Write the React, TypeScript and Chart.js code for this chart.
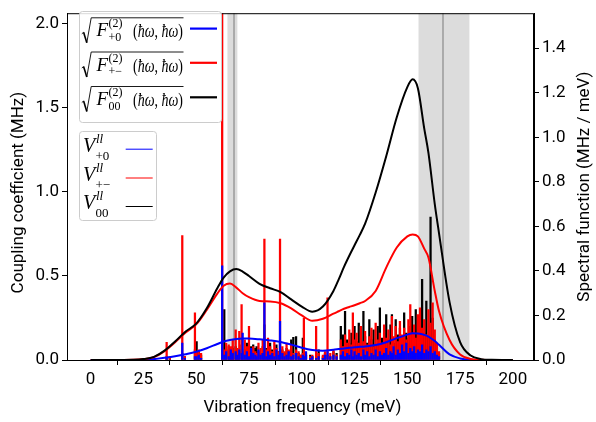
import { useEffect, useRef } from 'react';
import { Chart, registerables } from 'chart.js';

Chart.register(...registerables);

// ---------- data ----------
const xTicks = [0, 25, 50, 75, 100, 125, 150, 175, 200];
const leftTicks = [0, 0.5, 1.0, 1.5, 2.0];
const rightTicks = [0, 0.2, 0.4, 0.6, 0.8, 1.0, 1.2, 1.4];

// Spectral functions (right axis, MHz / meV)
const curveFreq = [0, 10, 20, 25, 30, 35, 40, 45, 50, 55, 60, 63, 66, 69, 72, 75, 80, 85, 90, 95, 100, 105, 110, 115, 117.5, 120, 122.5, 125, 127.5, 130, 135, 140, 145, 150, 152.5, 155, 158, 160, 163, 165, 170, 175, 180, 185, 190, 200];
const spectralPlus0 = [0, 0, 0, 0.001, 0.004, 0.01, 0.017, 0.026, 0.037, 0.053, 0.072, 0.083, 0.09, 0.094, 0.096, 0.096, 0.093, 0.088, 0.081, 0.069, 0.055, 0.045, 0.042, 0.046, 0.049, 0.052, 0.0545, 0.057, 0.059, 0.061, 0.067, 0.08, 0.098, 0.114, 0.12, 0.119, 0.113, 0.105, 0.085, 0.068, 0.025, 0.007, 0.001, 0, 0, 0];
const spectralPlusMinus = [0, 0, 0.001, 0.004, 0.013, 0.04, 0.08, 0.124, 0.16, 0.225, 0.298, 0.333, 0.343, 0.325, 0.3, 0.282, 0.265, 0.263, 0.255, 0.232, 0.2, 0.176, 0.185, 0.208, 0.219, 0.23, 0.238, 0.246, 0.255, 0.265, 0.31, 0.415, 0.505, 0.555, 0.564, 0.555, 0.5, 0.46, 0.31, 0.22, 0.09, 0.025, 0.005, 0.001, 0, 0];
const spectral00 = [0, 0, 0.001, 0.004, 0.014, 0.042, 0.083, 0.128, 0.163, 0.232, 0.322, 0.37, 0.398, 0.408, 0.397, 0.377, 0.342, 0.322, 0.305, 0.272, 0.24, 0.217, 0.24, 0.31, 0.362, 0.418, 0.468, 0.515, 0.562, 0.612, 0.752, 0.915, 1.09, 1.225, 1.26, 1.22, 1.04, 0.93, 0.7, 0.57, 0.26, 0.08, 0.02, 0.004, 0.001, 0];

// Mode couplings (left axis, MHz)
const modeFreq = [
  36.0, 37.5, 43.4, 44.6, 49.4, 50.2, 51.2, 52.3, 62.3, 63.3,
  64.2, 65.4, 66.4, 67.3, 68.7, 69.5, 70.4, 71.5, 72.0, 73.0,
  74.0, 75.0, 76.0, 77.0, 78.0, 78.6, 79.5, 80.5, 81.5, 82.3,
  83.2, 84.0, 85.0, 86.0, 87.0, 88.0, 89.0, 89.7, 90.8, 91.8,
  92.8, 93.8, 95.0, 96.0, 97.3, 98.5, 99.5, 100.5, 101.0, 102.0,
  104.0, 105.0, 106.8, 108.0, 110.0, 111.0, 112.2, 113.5, 115.0, 116.5,
  118.5, 119.5, 120.5, 121.5, 122.5, 123.5, 124.2, 125.0, 126.0, 127.0,
  128.0, 129.2, 130.0, 131.0, 132.0, 133.0, 134.0, 135.0, 136.0, 137.0,
  138.0, 139.0, 140.0, 141.0, 142.0, 142.7, 143.5, 144.5, 145.5, 146.5,
  147.5, 148.5, 149.5, 150.5, 151.4, 152.3, 153.2, 154.0, 155.0, 156.0,
  157.0, 158.0, 159.0, 160.0, 161.0, 162.0, 163.0, 164.0, 165.0,
];
const couplingPlus0 = [
  0.01, 0.00, 0.10, 0.01, 0.02, 0.02, 0.03, 0.01, 0.56, 0.03,
  0.05, 0.02, 0.06, 0.04, 0.05, 0.03, 0.06, 0.04, 0.16, 0.03,
  0.05, 0.02, 0.07, 0.04, 0.03, 0.02, 0.06, 0.03, 0.04, 0.34,
  0.02, 0.05, 0.03, 0.04, 0.02, 0.06, 0.03, 0.23, 0.04, 0.02,
  0.03, 0.05, 0.02, 0.03, 0.04, 0.02, 0.01, 0.03, 0.02, 0.05,
  0.01, 0.02, 0.01, 0.02, 0.01, 0.03, 0.05, 0.02, 0.03, 0.02,
  0.03, 0.05, 0.02, 0.04, 0.03, 0.06, 0.02, 0.05, 0.03, 0.04,
  0.02, 0.06, 0.03, 0.05, 0.02, 0.04, 0.03, 0.06, 0.02, 0.05,
  0.03, 0.04, 0.07, 0.03, 0.05, 0.04, 0.08, 0.03, 0.06, 0.04,
  0.09, 0.05, 0.10, 0.04, 0.07, 0.05, 0.08, 0.04, 0.06, 0.05,
  0.09, 0.04, 0.06, 0.05, 0.08, 0.04, 0.05, 0.03, 0.02,
];
const couplingPlusMinus = [
  0.105, 0.02, 0.74, 0.02, 0.28, 0.05, 0.06, 0.04, 2.20, 0.06,
  0.10, 0.09, 0.08, 0.12, 0.18, 0.07, 0.17, 0.33, 0.05, 0.12,
  0.08, 0.20, 0.06, 0.08, 0.05, 0.04, 0.10, 0.07, 0.12, 0.72,
  0.06, 0.13, 0.08, 0.05, 0.11, 0.07, 0.05, 0.72, 0.08, 0.05,
  0.10, 0.06, 0.09, 0.04, 0.06, 0.05, 0.03, 0.04, 0.25, 0.04,
  0.02, 0.03, 0.20, 0.04, 0.03, 0.05, 0.37, 0.04, 0.06, 0.03,
  0.12, 0.08, 0.15, 0.10, 0.18, 0.09, 0.28, 0.12, 0.16, 0.10,
  0.20, 0.11, 0.17, 0.09, 0.14, 0.19, 0.08, 0.22, 0.12, 0.16,
  0.10, 0.21, 0.13, 0.18, 0.09, 0.26, 0.14, 0.20, 0.11, 0.23,
  0.15, 0.19, 0.12, 0.24, 0.33, 0.16, 0.21, 0.13, 0.27, 0.31,
  0.19, 0.24, 0.15, 0.30, 0.22, 0.34, 0.18, 0.10, 0.05,
];
const coupling00 = [
  0.02, 0.01, 0.04, 0.02, 0.06, 0.11, 0.05, 0.03, 0.04, 0.30,
  0.06, 0.08, 0.05, 0.07, 0.08, 0.06, 0.05, 0.09, 0.04, 0.06,
  0.10, 0.05, 0.08, 0.09, 0.07, 0.08, 0.05, 0.04, 0.08, 0.21,
  0.07, 0.05, 0.10, 0.06, 0.04, 0.09, 0.05, 0.10, 0.06, 0.04,
  0.07, 0.05, 0.12, 0.135, 0.14, 0.04, 0.03, 0.13, 0.02, 0.03,
  0.03, 0.02, 0.02, 0.06, 0.02, 0.04, 0.03, 0.02, 0.05, 0.04,
  0.20, 0.15, 0.29, 0.12, 0.10, 0.16, 0.08, 0.20, 0.11, 0.22,
  0.09, 0.29, 0.14, 0.10, 0.24, 0.12, 0.18, 0.09, 0.20, 0.31,
  0.13, 0.16, 0.27, 0.12, 0.21, 0.27, 0.10, 0.24, 0.15, 0.19,
  0.11, 0.28, 0.16, 0.13, 0.20, 0.26, 0.14, 0.30, 0.18, 0.22,
  0.48, 0.16, 0.35, 0.14, 0.85, 0.25, 0.12, 0.08, 0.04,
];

// Shaded windows (meV)
const bandStart = [64.8, 155.3];
const bandEnd = [69.5, 179.4];
const bandCenter = [67.9, 166.9];

const subLabels = ['+0', '+\u2212', '00'];
const seriesColors = ['#0000ff', '#ff0000', '#000000'];

// ---------- drawing helpers ----------
const MATH = 'Liberation Serif';
const SANS = 'Roboto';

function drawSeq(ctx: CanvasRenderingContext2D, pieces: [string, string][], x: number, y: number, targetW?: number) {
  const widths: number[] = [];
  let total = 0;
  for (const [s, f] of pieces) {
    ctx.font = f;
    const w = ctx.measureText(s).width;
    widths.push(w);
    total += w;
  }
  ctx.save();
  ctx.translate(x, y);
  if (targetW) ctx.scale(targetW / total, 1);
  let cx = 0;
  pieces.forEach(([s, f], i) => {
    ctx.font = f;
    ctx.fillText(s, cx, 0);
    cx += widths[i];
  });
  ctx.restore();
}

function roundRect(ctx: CanvasRenderingContext2D, x: number, y: number, w: number, h: number, r: number) {
  ctx.beginPath();
  ctx.moveTo(x + r, y);
  ctx.lineTo(x + w - r, y);
  ctx.quadraticCurveTo(x + w, y, x + w, y + r);
  ctx.lineTo(x + w, y + h - r);
  ctx.quadraticCurveTo(x + w, y + h, x + w - r, y + h);
  ctx.lineTo(x + r, y + h);
  ctx.quadraticCurveTo(x, y + h, x, y + h - r);
  ctx.lineTo(x, y + r);
  ctx.quadraticCurveTo(x, y, x + r, y);
  ctx.closePath();
}

const bandPlugin = {
  id: 'bands',
  beforeDatasetsDraw(chart: any) {
    const { ctx, chartArea, scales } = chart;
    const xs = scales.x;
    ctx.save();
    for (let i = 0; i < bandStart.length; i++) {
      const a = xs.getPixelForValue(bandStart[i]);
      const b = xs.getPixelForValue(bandEnd[i]);
      ctx.fillStyle = 'rgba(128,128,128,0.28)';
      ctx.fillRect(a, chartArea.top, b - a, chartArea.bottom - chartArea.top);
      const c = xs.getPixelForValue(bandCenter[i]);
      ctx.strokeStyle = '#9a9a9a';
      ctx.lineWidth = 1.5;
      ctx.beginPath();
      ctx.moveTo(c, chartArea.top);
      ctx.lineTo(c, chartArea.bottom);
      ctx.stroke();
    }
    ctx.restore();
  },
};

const overlayPlugin = {
  id: 'overlay',
  afterDraw(chart: any) {
    const { ctx, chartArea } = chart;
    ctx.save();
    // frame
    ctx.strokeStyle = '#000';
    ctx.lineWidth = 1;
    ctx.strokeRect(chartArea.left + 0.5, chartArea.top + 0.5, chartArea.right - chartArea.left - 1, chartArea.bottom - chartArea.top);

    // axis titles
    ctx.fillStyle = '#000';
    ctx.textAlign = 'center';
    ctx.textBaseline = 'middle';
    ctx.font = `17px ${SANS}`;
    ctx.fillText('Vibration frequency (meV)', (chartArea.left + chartArea.right) / 2 + 2, 408);
    const midY = (chartArea.top + chartArea.bottom) / 2;
    ctx.save();
    ctx.translate(19, midY + 6);
    ctx.rotate(-Math.PI / 2);
    ctx.fillText('Coupling coefficient (MHz)', 0, 0);
    ctx.restore();
    ctx.save();
    ctx.translate(585, midY);
    ctx.rotate(-Math.PI / 2);
    ctx.fillText('Spectral function (MHz / meV)', 0, 0);
    ctx.restore();

    ctx.textAlign = 'left';
    ctx.textBaseline = 'alphabetic';

    // legend 1
    roundRect(ctx, 79.5, 11.5, 142, 111, 3);
    ctx.fillStyle = 'rgba(255,255,255,0.85)';
    ctx.fill();
    ctx.strokeStyle = '#cccccc';
    ctx.lineWidth = 1;
    ctx.stroke();
    const over = [17.3, 51.5, 86];
    for (let i = 0; i < 3; i++) {
      const o = over[i];
      ctx.strokeStyle = '#000';
      ctx.lineWidth = 0.9;
      ctx.beginPath();
      ctx.moveTo(81.8, o + 16.5);
      ctx.lineTo(83.6, o + 15);
      ctx.stroke();
      ctx.lineWidth = 1.6;
      ctx.beginPath();
      ctx.moveTo(83.6, o + 15);
      ctx.lineTo(86.8, o + 25.5);
      ctx.stroke();
      ctx.lineWidth = 0.9;
      ctx.beginPath();
      ctx.moveTo(86.8, o + 25.5);
      ctx.lineTo(91.2, o + 0.5);
      ctx.lineTo(183.5, o + 0.5);
      ctx.stroke();
      ctx.fillStyle = '#000';
      drawSeq(ctx, [['F', `italic 19px ${MATH}`]], 96.5, o + 19);
      drawSeq(ctx, [['(2)', `12px ${MATH}`]], 108.5, o + 10);
      drawSeq(ctx, [[subLabels[i], `12px ${MATH}`]], 108.5, o + 23.5);
      drawSeq(ctx, [
        ['(', `18px ${MATH}`],
        ['\u0127\u03c9', `italic 18px ${MATH}`],
        [', ', `18px ${MATH}`],
        ['\u0127\u03c9', `italic 18px ${MATH}`],
        [')', `18px ${MATH}`],
      ], 133, o + 20, 50);
      ctx.strokeStyle = seriesColors[i];
      ctx.lineWidth = 2.2;
      ctx.beginPath();
      ctx.moveTo(190, o + 11.3);
      ctx.lineTo(217, o + 11.3);
      ctx.stroke();
    }

    // legend 2
    roundRect(ctx, 79.5, 131.5, 77, 89, 3);
    ctx.fillStyle = 'rgba(255,255,255,0.85)';
    ctx.fill();
    ctx.strokeStyle = '#cccccc';
    ctx.lineWidth = 1;
    ctx.stroke();
    const base = [151.7, 180.5, 209];
    for (let i = 0; i < 3; i++) {
      const b = base[i];
      ctx.fillStyle = '#000';
      drawSeq(ctx, [['V', `italic 20px ${MATH}`]], 83, b);
      drawSeq(ctx, [['ll', `italic 13px ${MATH}`]], 96, b - 9);
      drawSeq(ctx, [[subLabels[i], `13px ${MATH}`]], 95.5, b + 8);
      ctx.strokeStyle = seriesColors[i];
      ctx.lineWidth = 1;
      ctx.beginPath();
      ctx.moveTo(125.7, b - 2.5);
      ctx.lineTo(152.7, b - 2.5);
      ctx.stroke();
    }
    ctx.restore();
  },
};

function pts(xs: number[], ys: number[]) {
  return xs.map((x, i) => ({ x, y: ys[i] }));
}

export default function App() {
  const ref = useRef<HTMLCanvasElement>(null);

  useEffect(() => {
    if (!ref.current) return;
    const tickGrid = { display: true, drawOnChartArea: false, drawTicks: true, tickLength: 5, color: '#000', lineWidth: 1 };
    const tickFont = { family: SANS, size: 17 };
    const lineDs = (data: number[], color: string) => ({
      type: 'line' as const,
      data: pts(curveFreq, data),
      borderColor: color,
      borderWidth: 2,
      pointRadius: 0,
      fill: false,
      cubicInterpolationMode: 'monotone' as const,
      yAxisID: 'y2',
    });
    const barDs = (data: number[], color: string) => ({
      type: 'bar' as const,
      data: pts(modeFreq, data),
      backgroundColor: color,
      borderWidth: 0,
      barThickness: 1.6,
      grouped: false,
      yAxisID: 'y',
    });
    const chart = new Chart(ref.current, {
      type: 'bar',
      data: {
        datasets: [
          lineDs(spectral00, '#000000'),
          lineDs(spectralPlusMinus, '#ff0000'),
          lineDs(spectralPlus0, '#0000ff'),
          barDs(couplingPlus0, '#0000ff'),
          barDs(couplingPlusMinus, '#ff0000'),
          barDs(coupling00, '#000000'),
        ] as any,
      },
      options: {
        responsive: false,
        animation: false,
        layout: { padding: { top: 4, left: 0, right: 0, bottom: 0 } },
        plugins: { legend: { display: false }, tooltip: { enabled: false } },
        scales: {
          x: {
            type: 'linear',
            min: -11.2,
            max: 210,
            offset: false,
            grid: tickGrid,
            border: { display: true, color: '#000', width: 1 },
            ticks: { font: tickFont, color: '#000', padding: 5, autoSkip: false, maxRotation: 0, callback: (v: any) => String(v) },
            afterBuildTicks: (s: any) => { s.ticks = xTicks.map((v) => ({ value: v })); },
            afterFit: (s: any) => { s.height = 62; },
          },
          y: {
            type: 'linear',
            position: 'left',
            min: 0,
            max: 2.064,
            grid: tickGrid,
            border: { display: true, color: '#000', width: 1 },
            ticks: { font: tickFont, color: '#000', padding: 3, autoSkip: false, callback: (v: any) => Number(v).toFixed(1) },
            afterBuildTicks: (s: any) => { s.ticks = leftTicks.map((v) => ({ value: v })); },
            afterFit: (s: any) => { s.width = 67; },
          },
          y2: {
            type: 'linear',
            position: 'right',
            min: 0,
            max: 1.557,
            grid: tickGrid,
            border: { display: true, color: '#000', width: 1 },
            ticks: { font: tickFont, color: '#000', padding: 3, autoSkip: false, callback: (v: any) => Number(v).toFixed(1) },
            afterBuildTicks: (s: any) => { s.ticks = rightTicks.map((v) => ({ value: v })); },
            afterFit: (s: any) => { s.width = 62; },
          },
        },
      } as any,
      plugins: [bandPlugin, overlayPlugin],
    });
    return () => chart.destroy();
  }, []);

  return (
    <div style={{ position: 'fixed', left: 0, top: 0, width: 596, height: 422, background: '#fff' }}>
      <canvas ref={ref} width={596} height={422} style={{ display: 'block' }} />
    </div>
  );
}
